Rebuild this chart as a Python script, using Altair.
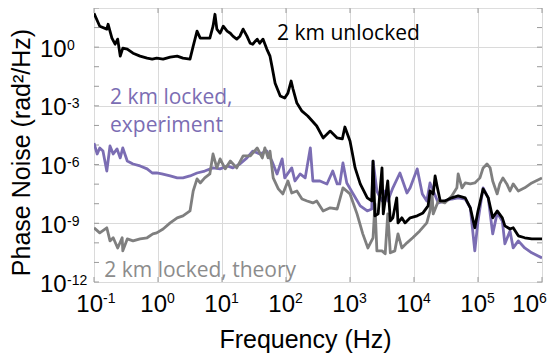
import altair as alt
import pandas as pd

# ---- data (log10 of frequency in Hz, log10 of phase noise in rad^2/Hz) ----
unlocked_logf = [-1.00, -0.91, -0.80, -0.78, -0.72, -0.67, -0.63, -0.59, -0.55, -0.48, -0.39, -0.28, -0.17, -0.09, -0.02,
                 0.08, 0.19, 0.30, 0.39, 0.50, 0.55, 0.61, 0.66, 0.73, 0.81, 0.86, 0.89, 0.92, 0.97, 1.02, 1.08, 1.13,
                 1.17, 1.23, 1.28, 1.33, 1.39, 1.44, 1.48, 1.55, 1.59, 1.64, 1.70, 1.75, 1.78, 1.83, 1.91, 1.98, 2.03,
                 2.08, 2.11, 2.17, 2.25, 2.34, 2.48, 2.58, 2.69, 2.80, 2.88, 2.92, 3.00, 3.03, 3.08, 3.16, 3.27, 3.34,
                 3.36, 3.39, 3.44, 3.50, 3.52, 3.59, 3.63, 3.67, 3.73, 3.75, 3.81, 3.86, 3.94, 4.05, 4.14, 4.22, 4.25,
                 4.30, 4.33, 4.36, 4.41, 4.48, 4.59, 4.69, 4.80, 4.88, 4.95, 5.00, 5.08, 5.16, 5.23, 5.30, 5.38, 5.42,
                 5.50, 5.55, 5.63, 5.73, 5.84, 6.00]
unlocked_logp = [1.73, 1.07, 0.92, 1.17, 0.46, 0.15, 0.41, -0.46, -0.05, -0.10, -0.31, -0.46, -0.56, -0.61, -0.56,
                 -0.61, -0.51, -0.46, -0.56, -0.61, 0.05, 0.82, 0.46, 0.46, 0.46, 1.07, 1.68, 0.92, 0.71, 1.07, 0.82, 0.71,
                 0.56, 0.41, 0.56, 0.92, 0.56, 0.20, 0.15, 0.41, 0.20, 0.41, -0.10, -0.46, -0.97, -1.84, -2.50, -2.60, -2.35,
                 -1.73, -2.14, -2.86, -3.27, -3.52, -4.03, -4.64, -4.29, -4.64, -4.69, -4.08, -4.80, -5.31, -6.17, -6.99, -7.70, -7.86,
                 -5.82, -8.62, -8.52, -6.17, -8.52, -6.84, -8.88, -8.72, -7.70, -8.98, -8.72, -8.98, -8.72, -8.62, -8.47, -8.11, -7.35,
                 -7.50, -6.58, -7.09, -7.86, -7.86, -7.70, -7.60, -7.70, -8.21, -9.23, -8.37, -7.24, -7.70, -8.72, -8.37, -8.72, -9.13,
                 -9.29, -9.23, -9.64, -9.74, -9.80, -9.80]

experiment_logf = [-1.00, -0.95, -0.91, -0.86, -0.80, -0.75, -0.70, -0.64, -0.59, -0.55, -0.48, -0.39, -0.28, -0.17, -0.09,
                   -0.02, 0.06, 0.19, 0.30, 0.39, 0.50, 0.61, 0.73, 0.86, 0.97, 1.08, 1.17, 1.28, 1.39, 1.48, 1.59, 1.70,
                   1.78, 1.86, 1.94, 1.98, 2.09, 2.14, 2.22, 2.30, 2.38, 2.42, 2.53, 2.64, 2.73, 2.80, 2.84, 2.89, 2.95,
                   3.05, 3.16, 3.27, 3.34, 3.36, 3.42, 3.50, 3.55, 3.59, 3.67, 3.78, 3.89, 3.94, 4.05, 4.13, 4.20, 4.25,
                   4.38, 4.48, 4.59, 4.69, 4.80, 4.88, 4.95, 5.00, 5.08, 5.16, 5.23, 5.30, 5.38, 5.42, 5.50, 5.55, 5.63,
                   5.73, 5.84, 6.00]
experiment_logp = [-4.90, -5.46, -5.15, -5.31, -6.33, -5.05, -5.46, -5.20, -5.66, -5.15, -5.82, -5.97, -6.07, -6.22, -6.43,
                   -6.43, -6.48, -6.58, -6.68, -6.68, -6.58, -6.43, -6.33, -6.17, -6.22, -6.07, -6.17, -5.97, -5.66, -5.31, -5.46, -5.31,
                   -5.82, -6.48, -5.71, -6.68, -6.17, -6.84, -6.48, -6.68, -5.15, -6.84, -6.84, -6.99, -6.33, -6.99, -6.99, -5.92, -6.94,
                   -7.50, -8.11, -8.37, -8.27, -5.82, -7.35, -7.86, -7.35, -7.86, -7.19, -6.43, -7.45, -7.19, -6.22, -7.50, -7.86, -6.94,
                   -7.96, -7.86, -7.76, -7.70, -7.76, -8.21, -10.41, -8.88, -7.19, -7.70, -9.54, -8.47, -8.88, -10.05, -9.39, -10.26, -9.90,
                   -10.26, -10.51, -10.77]

theory_logf = [-1.00, -0.91, -0.80, -0.75, -0.70, -0.63, -0.56, -0.55, -0.48, -0.39, -0.28, -0.17, -0.08, -0.02, 0.08,
               0.19, 0.30, 0.39, 0.50, 0.55, 0.61, 0.66, 0.73, 0.81, 0.86, 0.92, 0.97, 1.05, 1.13, 1.23, 1.33, 1.44,
               1.55, 1.63, 1.67, 1.72, 1.75, 1.80, 1.88, 1.95, 2.03, 2.09, 2.17, 2.25, 2.33, 2.42, 2.48, 2.58, 2.69,
               2.80, 2.89, 3.00, 3.11, 3.20, 3.28, 3.36, 3.39, 3.42, 3.50, 3.55, 3.59, 3.63, 3.70, 3.75, 3.81, 3.89,
               3.98, 4.09, 4.20, 4.25, 4.28, 4.30, 4.38, 4.48, 4.59, 4.67, 4.69, 4.75, 4.80, 4.88, 4.95, 5.03, 5.08,
               5.14, 5.19, 5.23, 5.30, 5.34, 5.39, 5.45, 5.50, 5.55, 5.63, 5.73, 5.84, 6.00]
theory_logp = [-9.23, -9.49, -9.23, -9.90, -9.74, -10.26, -9.74, -10.41, -9.80, -9.90, -9.80, -9.74, -9.54, -9.49, -9.29,
               -8.98, -8.72, -8.62, -8.37, -7.35, -6.73, -6.94, -6.68, -6.48, -5.46, -6.17, -5.71, -6.22, -5.82, -6.17, -5.56, -5.56,
               -5.15, -5.66, -5.15, -5.66, -5.31, -6.68, -7.24, -7.50, -6.84, -7.45, -7.35, -7.76, -7.86, -7.96, -7.86, -8.37, -8.21,
               -8.27, -7.19, -7.50, -8.52, -9.54, -10.26, -9.74, -8.01, -10.41, -10.41, -10.56, -8.52, -10.51, -10.41, -9.54, -10.26, -10.00,
               -9.74, -9.39, -8.98, -8.37, -7.35, -8.52, -7.86, -7.96, -7.60, -7.19, -6.48, -7.19, -6.94, -6.99, -6.94, -6.68, -6.17,
               -5.97, -6.17, -6.84, -7.50, -6.99, -6.68, -6.99, -7.35, -6.99, -7.35, -7.19, -6.94, -6.68]

series_names = ["2 km unlocked", "2 km locked, experiment", "2 km locked, theory"]
series_colors = ["#000000", "#7b6db3", "#7f7f7f"]

# tick values and their labels (base 10 with a raised exponent)
x_tick_vals = [0.1, 1, 10, 100, 1e3, 1e4, 1e5, 1e6]
x_tick_exps = ["-1", "0", "1", "2", "3", "4", "5", "6"]
y_tick_vals = [1e-12, 1e-9, 1e-6, 1e-3, 1]
y_tick_exps = ["-12", "-9", "-6", "-3", "0"]
y_decades = [10.0 ** k for k in range(-12, 3)]

# annotation texts
ann_text = ["2 km unlocked", "2 km locked,", "experiment", "2 km locked, theory"]
ann_logf = [1.86, -0.75, -0.75, -0.84]
ann_logp = [0.36, -2.91, -4.34, -11.73]
ann_color = ["#000000", "#7b6db3", "#7b6db3", "#8c8c8c"]


def frame(lf, lp):
    return pd.DataFrame({"freq": [10.0 ** v for v in lf], "noise": [10.0 ** v for v in lp],
                         "i": list(range(len(lf)))})


xs = alt.Scale(type="log", domain=[0.1, 1e6], nice=False)
ys = alt.Scale(type="log", domain=[1e-12, 1e2], nice=False)

FONT = "Liberation Sans"
xaxis = alt.Axis(values=x_tick_vals, labels=False, title="Frequency (Hz)", grid=True,
                 gridColor="#dadada", gridWidth=1, ticks=False, tickSize=0, domain=False,
                 titleFont=FONT, titleFontSize=25, titleFontWeight="normal",
                 titleColor="black", titleX=211, titleY=65, titleBaseline="alphabetic", titleAlign="center")
yaxis = alt.Axis(values=y_tick_vals, labels=False, title="Phase Noise (rad²/Hz)", grid=True,
                 gridColor="#dadada", gridWidth=1, ticks=False, tickSize=0, domain=False,
                 titleFont=FONT, titleFontSize=25, titleFontWeight="normal",
                 titleColor="black", titleX=-65, titleY=144, titleBaseline="alphabetic", titleAlign="center",
                 titleAngle=270)

X = alt.X("freq:Q", scale=xs, axis=xaxis)
Y = alt.Y("noise:Q", scale=ys, axis=yaxis)

layers = []
# inward tick marks
ydec = pd.DataFrame({"noise": y_decades})
xdec = pd.DataFrame({"freq": x_tick_vals})
tick_col = "#9a9a9a"
layers.append(alt.Chart(ydec).mark_rule(color=tick_col, strokeWidth=1).encode(y=Y, x=alt.value(0), x2=alt.value(5)))
layers.append(alt.Chart(ydec).mark_rule(color=tick_col, strokeWidth=1).encode(y=Y, x=alt.value(443), x2=alt.value(448)))
layers.append(alt.Chart(xdec).mark_rule(color=tick_col, strokeWidth=1).encode(x=X, y=alt.value(274), y2=alt.value(269)))
layers.append(alt.Chart(xdec).mark_rule(color=tick_col, strokeWidth=1).encode(x=X, y=alt.value(0), y2=alt.value(5)))

# curves: experiment, theory, unlocked (drawing order)
for lf, lp, col in [(experiment_logf, experiment_logp, series_colors[1]),
                    (theory_logf, theory_logp, series_colors[2]),
                    (unlocked_logf, unlocked_logp, series_colors[0])]:
    layers.append(alt.Chart(frame(lf, lp)).mark_line(color=col, strokeWidth=2.8, strokeJoin="round",
                                                     clip=True).encode(x=X, y=Y, order="i:Q"))

# tick labels "10" with superscript exponent
xl = pd.DataFrame({"freq": x_tick_vals, "base": ["10"] * len(x_tick_vals), "e": x_tick_exps})
xl_main = xl.iloc[:-1]
xl_last = xl.iloc[-1:]
for d, off in [(xl_main, 9), (xl_last, -3)]:
    layers.append(alt.Chart(d).mark_text(align="right", baseline="alphabetic", font=FONT, fontSize=24,
                                         color="black", dx=off).encode(x=X, y=alt.value(304), text="base:N"))
    layers.append(alt.Chart(d).mark_text(align="left", baseline="alphabetic", font=FONT, fontSize=14,
                                         color="black", dx=off).encode(x=X, y=alt.value(295), text="e:N"))

yl = pd.DataFrame({"noise": y_tick_vals, "base": ["10"] * len(y_tick_vals), "e": y_tick_exps})
layers.append(alt.Chart(yl).mark_text(align="left", baseline="alphabetic", font=FONT, fontSize=24,
                                      color="black", dy=9.5).encode(y=Y, x=alt.value(-54), text="base:N"))
layers.append(alt.Chart(yl).mark_text(align="left", baseline="alphabetic", font=FONT, fontSize=14,
                                      color="black", dy=2.5).encode(y=Y, x=alt.value(-27), text="e:N"))

ann = pd.DataFrame({"t": ann_text, "freq": [10.0 ** v for v in ann_logf],
                    "noise": [10.0 ** v for v in ann_logp], "c": ann_color})
layers.append(alt.Chart(ann).mark_text(align="left", baseline="alphabetic", font="Open Sans",
                                       fontSize=21).encode(x=X, y=Y, text="t:N",
                                                           color=alt.Color("c:N", scale=None)))

chart = alt.layer(*layers).properties(
    width=448, height=274,
    autosize=alt.AutoSizeParams(type="none"),
    padding={"left": 86, "top": 0, "right": 5, "bottom": 72},
).configure_view(stroke="#a6a6a6", strokeWidth=1.2).configure(background="white")

chart.save("out.html", embed_options={"renderer": "svg", "actions": False})
